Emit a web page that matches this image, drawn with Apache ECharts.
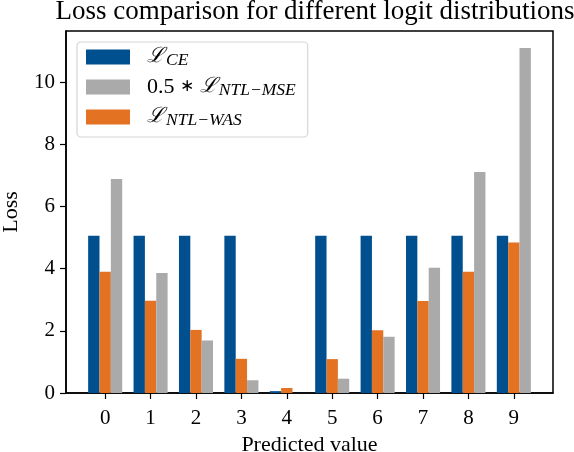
<!DOCTYPE html>
<html>
<head>
<meta charset="utf-8">
<script src="https://cdn.jsdelivr.net/npm/echarts@6/dist/echarts.min.js"></script>
<style>
  html, body { margin: 0; padding: 0; background: #fff; }
  #chart { width: 574px; height: 452px; }
</style>
</head>
<body>
<div id="chart"></div>
<script>
// values
var predicted = [0, 1, 2, 3, 4, 5, 6, 7, 8, 9];
var lossCE = [5.06, 5.06, 5.06, 5.06, 0.06, 5.06, 5.06, 5.06, 5.06, 5.06];
var lossWAS = [3.9, 2.97, 2.03, 1.1, 0.16, 1.09, 2.02, 2.96, 3.9, 4.84];
var lossMSE = [6.89, 3.86, 1.69, 0.41, 0, 0.46, 1.81, 4.03, 7.11, 11.1];
var yTicks = [0, 2, 4, 6, 8, 10];

var FONT = 'Liberation Serif';

function pairs(vals) {
  return predicted.map(function (x, i) { return [x, vals[i]]; });
}

var chart = echarts.init(document.getElementById('chart'));

var option = {
  backgroundColor: '#fff',
  animation: false,
  textStyle: { fontFamily: FONT, color: '#000' },
  title: {
    text: 'Loss comparison for different logit distributions',
    left: 310,
    textAlign: 'center',
    top: -7,
    textStyle: { fontFamily: FONT, fontSize: 27, fontWeight: 'normal', color: '#000' }
  },
  grid: {
    left: 66, right: 21, top: 31, bottom: 59,
    outerBoundsMode: 'none',
    show: true, borderColor: '#000', borderWidth: 1.5, backgroundColor: 'transparent'
  },
  legend: {
    orient: 'vertical',
    left: 77, top: 42,
    padding: [3, 12, 8, 9],
    itemWidth: 44, itemHeight: 15, itemGap: 6,
    icon: 'rect',
    backgroundColor: 'rgba(255,255,255,0.8)',
    borderColor: '#d6d6d6', borderWidth: 1.2, borderRadius: 4,
    data: ['ce', 'mse', 'was'],
    formatter: function (name) {
      if (name === 'ce') return '{L|ℒ}{s|CE}';
      if (name === 'mse') return '{n|0.5 }{a|∗}{n| }{L|ℒ}{s|NTL−MSE}';
      return '{L|ℒ}{s|NTL−WAS}';
    },
    textStyle: {
      fontFamily: FONT, fontSize: 22, color: '#000', lineHeight: 24,
      padding: [0, 0, 0, 12],
      rich: {
        n: { fontFamily: FONT, fontSize: 22, lineHeight: 24, verticalAlign: 'middle' },
        a: { fontFamily: 'DejaVu Sans', fontSize: 17, lineHeight: 24, verticalAlign: 'middle' },
        L: { fontFamily: 'DejaVu Serif', fontSize: 21, fontStyle: 'italic', lineHeight: 24, verticalAlign: 'middle' },
        s: { fontFamily: FONT, fontSize: 17.5, fontStyle: 'italic', lineHeight: 16, verticalAlign: 'bottom', padding: [0, 0, 0, 2] }
      }
    }
  },
  xAxis: {
    type: 'value',
    min: -0.8625, max: 9.8625,
    name: 'Predicted value',
    nameLocation: 'middle', nameGap: 36,
    nameTextStyle: { fontFamily: FONT, fontSize: 22, color: '#000' },
    splitLine: { show: false },
    axisLine: { show: true, onZero: false, lineStyle: { color: '#000', width: 1.5 } },
    axisTick: { show: true, customValues: predicted, length: 6, lineStyle: { color: '#000', width: 1.2 } },
    axisLabel: { customValues: predicted, fontFamily: FONT, fontSize: 21, color: '#000', margin: 15 }
  },
  yAxis: {
    type: 'value',
    min: 0, max: 11.65,
    name: 'Loss',
    nameLocation: 'middle', nameGap: 44,
    nameTextStyle: { fontFamily: FONT, fontSize: 22, color: '#000' },
    splitLine: { show: false },
    axisLine: { show: true, onZero: false, lineStyle: { color: '#000', width: 1.5 } },
    axisTick: { show: true, customValues: yTicks, length: 6, lineStyle: { color: '#000', width: 1.2 } },
    axisLabel: { customValues: yTicks, fontFamily: FONT, fontSize: 21, color: '#000', margin: 11 }
  },
  series: [
    { name: 'ce', type: 'bar', data: pairs(lossCE), barWidth: 11.35, barGap: '0%',
      itemStyle: { color: '#00508f' } },
    { name: 'was', type: 'bar', data: pairs(lossWAS), barWidth: 11.35, barGap: '0%',
      itemStyle: { color: '#e37222' } },
    { name: 'mse', type: 'bar', data: pairs(lossMSE), barWidth: 11.35, barGap: '0%',
      itemStyle: { color: '#aaaaaa' } }
  ]
};

chart.setOption(option);
</script>
</body>
</html>
